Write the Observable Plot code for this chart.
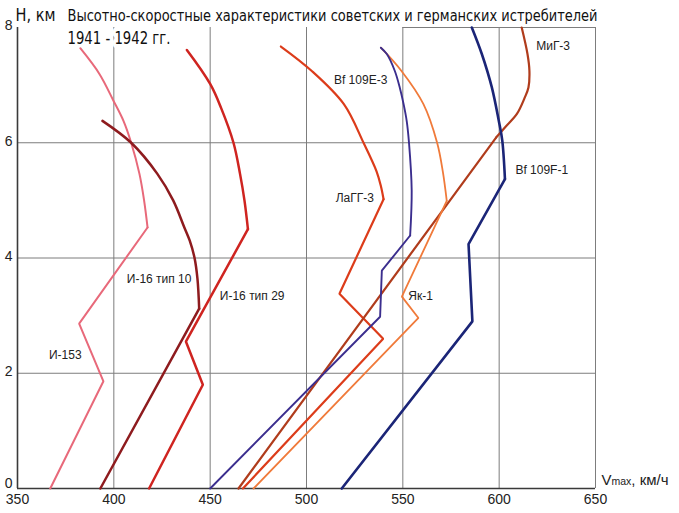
<!DOCTYPE html>
<html><head><meta charset="utf-8">
<script src="https://cdn.jsdelivr.net/npm/d3@7"></script>
<script src="https://cdn.jsdelivr.net/npm/@observablehq/plot@0.6"></script>
<style>
html,body{margin:0;padding:0;background:#fff;}
</style>
</head><body><div id="chart"></div>
<script>
// ---- data (speed km/h, altitude km) ----
const xTicks = [350, 400, 450, 500, 550, 600, 650];
const yTicksBase = [0];
const yTicks = [2, 4, 6, 8];
const gridX = [400, 450, 500, 550, 600, 650];
const gridY = [2, 4, 6];

const i153Speed = [367, 394.6, 382, 417.5, 415.7, 413.3, 409, 405, 399.8, 392.6, 382.6];
const i153Alt   = [0, 1.86, 2.86, 4.53, 5.0, 5.46, 6.0, 6.38, 6.73, 7.19, 7.64];

const i16t10Speed = [393, 444.3, 443.4, 441.9, 439.4, 436.6, 430.8, 422.6, 409, 394.1];
const i16t10Alt   = [0, 3.12, 3.64, 4.0, 4.3, 4.53, 5.0, 5.46, 6.0, 6.38];

const i16t29Speed = [418.3, 446.2, 437.4, 469.6, 467.8, 465.5, 462.1, 455.6, 450, 437.9];
const i16t29Alt   = [0, 1.80, 2.55, 4.5, 5.0, 5.46, 6.0, 6.61, 7.02, 7.61];

const laggSpeed = [467, 539.8, 517.1, 540, 538.6, 536.4, 529.6, 519.4, 502.6, 486.7];
const laggAlt   = [0, 2.6, 3.38, 5.02, 5.25, 5.5, 6.0, 6.67, 7.25, 7.67];

const migSpeed = [464.7, 598.4, 603.1, 609.2, 613.1, 615.2, 615.7, 614.7, 611.7];
const migAlt   = [0, 6.09, 6.27, 6.5, 6.77, 6.96, 7.25, 7.54, 8.0];

const yakSpeed = [472.5, 558.1, 549.5, 572.8, 570.8, 567.8, 560.7, 549.2, 538.6];
const yakAlt   = [0, 2.96, 3.33, 4.99, 5.49, 6.0, 6.67, 7.25, 7.65];

const bf109eSpeed = [450, 538.2, 539.1, 553.8, 554.6, 553.2, 552.0, 550.4, 548.4, 545.8, 541.7, 538.6];
const bf109eAlt   = [0, 2.98, 3.78, 4.39, 5.17, 6.0, 6.38, 6.67, 6.96, 7.25, 7.54, 7.65];

const bf109fSpeed = [518.3, 586.1, 584.1, 603, 601.6, 599.8, 596.2, 591, 585.8];
const bf109fAlt   = [0, 2.90, 4.24, 5.37, 6.04, 6.38, 6.96, 7.54, 8.0];

// index where the smooth (curved) part of each line begins
const smoothFrom = {"И-153": 3, "И-16 тип 10": 1, "И-16 тип 29": 3, "ЛаГГ-3": 3, "МиГ-3": 1, "Як-1": 3, "Bf 109E-3": 3, "Bf 109F-1": 3};

const labelNames  = ["И-153", "И-16 тип 10", "И-16 тип 29", "ЛаГГ-3", "Як-1", "Bf 109E-3", "Bf 109F-1", "МиГ-3"];
const labelSpeeds = [374.8, 423.5, 471.8, 525.1, 559.2, 528.1, 622.1, 628];
const labelAlts   = [2.31, 3.64, 3.33, 5.04, 3.33, 7.09, 5.52, 7.67];

const titleText = "Высотно-скоростные характеристики советских и германских истребителей";
const yearsText = "1941 - 1942 гг.";

// ---- styles ----
const colors = {"И-153": "#e8697a", "И-16 тип 10": "#8e1b1e", "И-16 тип 29": "#cf2420", "ЛаГГ-3": "#dc3c1a",
  "МиГ-3": "#b03c1c", "Як-1": "#f07a3a", "Bf 109E-3": "#3b2e8e", "Bf 109F-1": "#1b2577"};
const widths = {"И-153": 2, "И-16 тип 10": 2.5, "И-16 тип 29": 2.5, "ЛаГГ-3": 2.2,
  "МиГ-3": 2.2, "Як-1": 1.8, "Bf 109E-3": 1.9, "Bf 109F-1": 2.6};

const seriesList = [
  ["И-153", i153Speed, i153Alt], ["И-16 тип 10", i16t10Speed, i16t10Alt], ["И-16 тип 29", i16t29Speed, i16t29Alt],
  ["ЛаГГ-3", laggSpeed, laggAlt], ["МиГ-3", migSpeed, migAlt], ["Як-1", yakSpeed, yakAlt],
  ["Bf 109E-3", bf109eSpeed, bf109eAlt], ["Bf 109F-1", bf109fSpeed, bf109fAlt]
];

const straightRows = [], smoothRows = [];
for (const [name, sp, al] of seriesList) {
  const k = smoothFrom[name];
  sp.forEach((v, i) => {
    if (i <= k) straightRows.push({name, v, h: al[i], i});
    if (i >= k) smoothRows.push({name, v, h: al[i], i});
  });
}
const labelRows = labelNames.map((n, i) => ({n, v: labelSpeeds[i], h: labelAlts[i]}));

const narrow = "'Liberation Sans Narrow','DejaVu Sans Condensed','Arial Narrow',sans-serif";

const lineMarks = [];
for (const [name] of seriesList) {
  lineMarks.push(Plot.line(straightRows.filter(d => d.name === name), {x: "v", y: "h", curve: "linear",
    stroke: colors[name], strokeWidth: widths[name], strokeLinejoin: "miter", strokeLinecap: "round"}));
  lineMarks.push(Plot.line(smoothRows.filter(d => d.name === name), {x: "v", y: "h", curve: "catmull-rom",
    stroke: colors[name], strokeWidth: widths[name], strokeLinecap: "round"}));
}

const plot = Plot.plot({
  width: 679, height: 513,
  marginLeft: 17, marginRight: 84, marginTop: 27, marginBottom: 25,
  x: {domain: [350, 650]},
  y: {domain: [0, 8]},
  style: {fontFamily: "'Liberation Sans', Arial, sans-serif", background: "#fff", color: "#222"},
  marks: [
    Plot.ruleX(gridX, {stroke: "#7d7d7d", strokeWidth: 1}),
    Plot.ruleY(gridY, {stroke: "#7d7d7d", strokeWidth: 1}),
    Plot.ruleY([8], {x1: 550, x2: 650, stroke: "#7d7d7d", strokeWidth: 1}),
    Plot.ruleX([350], {stroke: "#3a3a3a", strokeWidth: 1.6}),
    Plot.ruleY([0], {stroke: "#3a3a3a", strokeWidth: 1.6}),
    Plot.axisX({ticks: xTicks, tickSize: 0, tickPadding: 6, fontSize: 14, label: null, tickFormat: d => String(d)}),
    Plot.axisY({ticks: yTicks, tickSize: 0, tickPadding: 5, fontSize: 14, label: null, dy: -1.5, tickFormat: d => String(d)}),
    Plot.axisY({ticks: yTicksBase, tickSize: 0, tickPadding: 5, fontSize: 14, label: null, dy: -4.5, tickFormat: d => String(d)}),
    Plot.text([yearsText], {frameAnchor: "top-left", dx: 50, dy: 11, textAnchor: "start", lineAnchor: "middle",
      fontSize: 17, fontFamily: narrow, fill: "#111", stroke: "#fff", strokeWidth: 8, ariaDescription: "years"}),
    ...lineMarks,
    Plot.text(labelRows, {x: "v", y: "h", text: "n", fontSize: 12, fill: "#222", textAnchor: "middle"}),
    Plot.text(["H, км"], {frameAnchor: "top-left", dx: -2, dy: -12, textAnchor: "start", lineAnchor: "middle",
      fontSize: 17, fontFamily: narrow, fill: "#111", ariaDescription: "hlabel"}),
    Plot.text([titleText], {frameAnchor: "top-left", dx: 50, dy: -12, textAnchor: "start", lineAnchor: "middle",
      fontSize: 16, fontFamily: narrow, fill: "#111", ariaDescription: "title"}),
    Plot.text(["V"], {frameAnchor: "bottom-right", dx: 6, dy: -4, textAnchor: "start", lineAnchor: "bottom",
      fontSize: 15, fill: "#222", ariaDescription: "vlabel"})
  ]
});
document.getElementById("chart").appendChild(plot);

// fit text widths to reference and build the V_max label
const fit = (desc, w) => {
  const t = plot.querySelector(`g[aria-description="${desc}"] text`);
  if (t) { t.setAttribute("textLength", w); t.setAttribute("lengthAdjust", "spacingAndGlyphs"); }
};
fit("title", 530); fit("years", 103); fit("hlabel", 40);
const vt = plot.querySelector('g[aria-description="vlabel"] text');
if (vt) {
  d3.select(vt).text("V");
  d3.select(vt).append("tspan").attr("font-size", 10.5).text("max");
  d3.select(vt).append("tspan").text(", км/ч");
}
</script>
</body></html>
